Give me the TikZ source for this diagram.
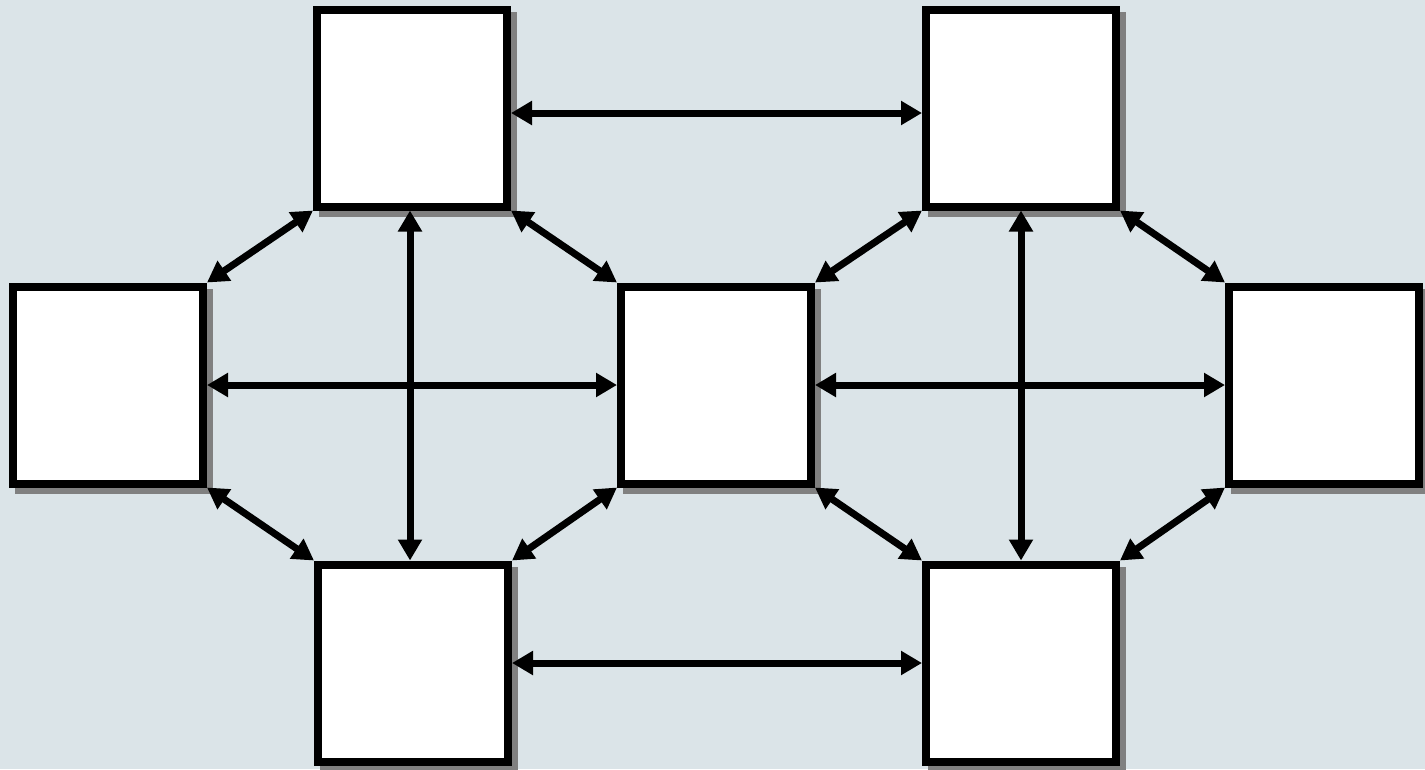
\documentclass[tikz,border=0pt]{standalone}
\usetikzlibrary{arrows.meta, shadows}

\definecolor{backdrop}{RGB}{219,228,232}
\definecolor{shadowgray}{RGB}{128,128,128}

\begin{document}
\begin{tikzpicture}[
    x=1pt,
    y=-1pt,
    box/.style={
        rectangle,
        draw,
        fill=white,
        line width=8pt,
        minimum width=190pt,
        minimum height=197pt,
        drop shadow={
            shadow xshift=6pt,
            shadow yshift=-6pt,
            opacity=1,
            fill=shadowgray,
            draw=shadowgray,
            line width=8pt
        }
    },
    arrow/.style={{Triangle[length=21pt,width=23pt]}-{Triangle[length=21pt,width=23pt]}, line width=7pt}
]

\fill[backdrop] (0,0) rectangle (1425,769);
\useasboundingbox (0,0) rectangle (1425,769);

\node[box] (top_left) at (412,108) {};
\node[box] (left) at (108,385) {};
\node[box] (middle) at (716,385) {};
\node[box] (bottom_left) at (413,663) {};

\node[box] (top_right) at (1021,108) {};
\node[box] (right) at (1324,385) {};
\node[box] (bottom_right) at (1021,663) {};

\draw[arrow] ([yshift=-5pt]top_left.east) -- ([yshift=-5pt]top_right.west);
\draw[arrow] (bottom_left) -- (bottom_right);
\draw[arrow] (left) -- (middle);
\draw[arrow] (middle) -- (right);
\draw[arrow] ([xshift=-2pt]top_left.south) -- ([xshift=-3pt]bottom_left.north);
\draw[arrow] (top_right) -- (bottom_right);

\draw[arrow] (top_left.south west) -- (left.north east);
\draw[arrow] (left.south east) -- (bottom_left.north west);
\draw[arrow] (top_left.south east) -- (middle.north west);
\draw[arrow] (middle.south west) -- (bottom_left.north east);

\draw[arrow] (top_right.south west) -- (middle.north east);
\draw[arrow] (middle.south east) -- (bottom_right.north west);
\draw[arrow] (top_right.south east) -- (right.north west);
\draw[arrow] (right.south west) -- (bottom_right.north east);

\end{tikzpicture}
\end{document}
